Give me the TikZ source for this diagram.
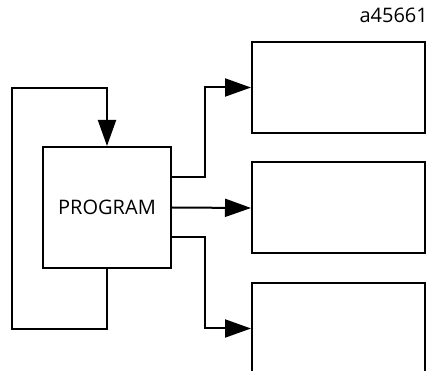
\documentclass[tikz,border=0pt]{standalone}
\usepackage{fontspec}
\setmainfont{Open Sans}
\usetikzlibrary{positioning,calc,arrows.meta}

\begin{document}
\begin{tikzpicture}[
  x=1pt, y=-1pt,
  font=\fontsize{20}{24}\selectfont,
  blk/.style={draw, line width=2pt, inner sep=0pt, align=center},
  outbox/.style={blk, minimum width=173pt, minimum height=91pt},
  flow/.style={-{Triangle[length=26pt,width=18pt]}, line width=2pt},
]
\useasboundingbox (0,0) rectangle (429,371);
\clip (0,0) rectangle (429,371);

% ---- main block and the three output blocks ----
\node[blk, minimum width=128pt, minimum height=121pt] (prog) at (107,207.5) {PROGRAM};
\node[outbox] (out1) at (338.5,87.5)  {};
\node[outbox] (out2) at (338.5,208)   {};
\node[outbox] (out3) at (338.5,328.5) {};

\node[anchor=base east, inner sep=0pt] (tag) at (428,23) {a45661};

% ---- feedback loop ----
\coordinate (loopbl) at (12,329);
\coordinate (looptl) at (12,88);
\draw[flow] (prog.south) |- (loopbl) -- (looptl) -| (prog.north);

% ---- outputs ----
\draw[flow] ([yshift=30pt]prog.east) -- ++(33,0) |- (out1.west);
\draw[flow] (prog.east) -- (out2.west);
\draw[flow] ([yshift=-30pt]prog.east) -- ++(33,0) |- (out3.west);

\end{tikzpicture}
\end{document}
